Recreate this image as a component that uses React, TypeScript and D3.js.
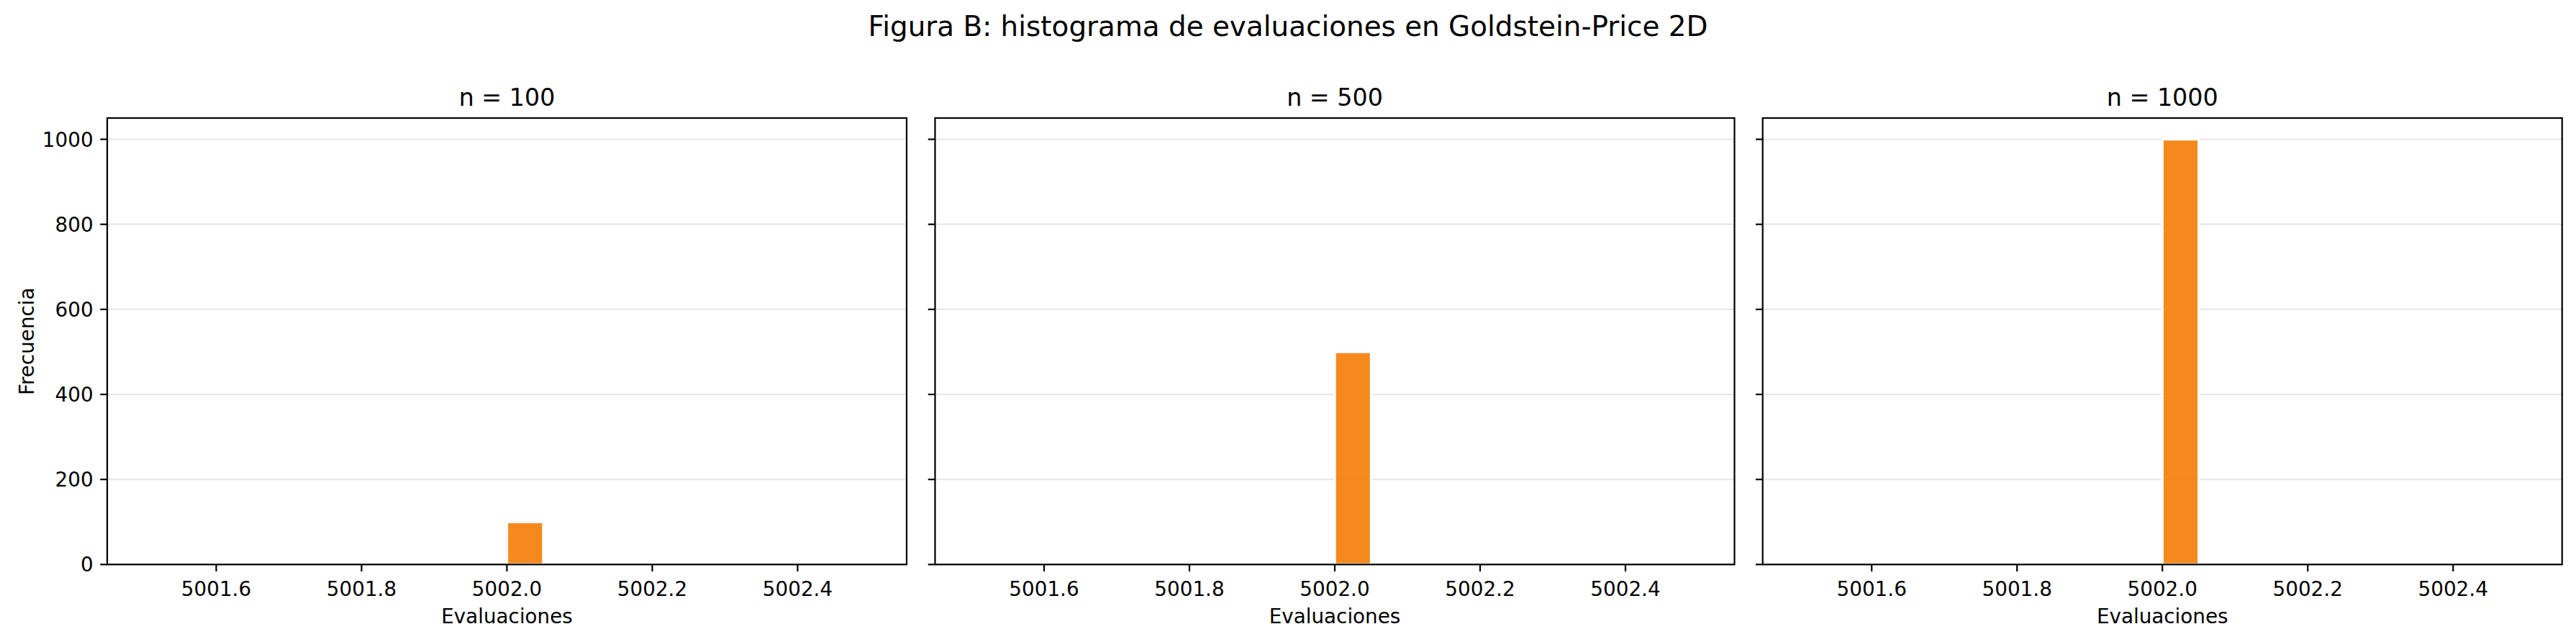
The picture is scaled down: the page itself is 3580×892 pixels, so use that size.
import React from "react";
import * as d3 from "d3";

// ---- data ----
const suptitle = "Figura B: histograma de evaluaciones en Goldstein-Price 2D";
const panelTitles = ["n = 100", "n = 500", "n = 1000"];
const sampleSizes = [100, 500, 1000];
// histogram: only non-empty bin (all runs used 5002 evaluations)
const binStarts = [5002.0, 5002.0, 5002.0];
const binEnds = [5002.05, 5002.05, 5002.05];
const binCounts = [100, 500, 1000];
const xDomain = [5001.45, 5002.55];
const yDomain = [0, 1050];
const xTicks = [5001.6, 5001.8, 5002.0, 5002.2, 5002.4];
const yTicks = [0, 200, 400, 600, 800, 1000];
const xLabel = "Evaluaciones";
const yLabel = "Frecuencia";

// ---- layout ----
const W = 3580;
const H = 892;
const panelLefts = [149, 1299.5, 2449.7];
const panelWidth = 1111;
const top = 164;
const bottom = 784.3;
const FONT = "DejaVu Sans, sans-serif";
const tickLen = 9.7;
const lw = 2.2;
const barColor = "#f47c06";

function Panel({ i }: { i: number }) {
  const left = panelLefts[i];
  const x = d3.scaleLinear().domain(xDomain).range([left, left + panelWidth]);
  const y = d3.scaleLinear().domain(yDomain).range([bottom, top]);
  const cx = left + panelWidth / 2;
  return (
    <g>
      {/* grid */}
      {yTicks.map((t) => (
        <line
          key={"g" + t}
          x1={left}
          x2={left + panelWidth}
          y1={y(t)}
          y2={y(t)}
          stroke="#e7e7e7"
          strokeWidth={lw}
        />
      ))}
      {/* bar */}
      <rect
        x={x(binStarts[i])}
        y={y(binCounts[i])}
        width={x(binEnds[i]) - x(binStarts[i])}
        height={y(0) - y(binCounts[i])}
        fill={barColor}
        fillOpacity={0.9}
        stroke="#ffffff"
        strokeWidth={3.4}
      />
      {/* spines */}
      <rect
        x={left}
        y={top}
        width={panelWidth}
        height={bottom - top}
        fill="none"
        stroke="#000"
        strokeWidth={lw}
      />
      {/* x ticks */}
      {xTicks.map((t) => (
        <g key={"x" + t}>
          <line x1={x(t)} x2={x(t)} y1={bottom} y2={bottom + tickLen} stroke="#000" strokeWidth={lw} />
          <text
            x={x(t)}
            y={828}
            textAnchor="middle"
            fontFamily={FONT}
            fontSize={27.8}
            fill="#000"
          >
            {t.toFixed(1)}
          </text>
        </g>
      ))}
      {/* y ticks */}
      {yTicks.map((t) => (
        <g key={"y" + t}>
          <line x1={left - tickLen} x2={left} y1={y(t)} y2={y(t)} stroke="#000" strokeWidth={lw} />
          {i === 0 && (
            <text
              x={left - tickLen - 9.7}
              y={y(t) + 10.1}
              textAnchor="end"
              fontFamily={FONT}
              fontSize={27.8}
              fill="#000"
            >
              {String(t)}
            </text>
          )}
        </g>
      ))}
      {/* title */}
      <text x={cx} y={147.3} textAnchor="middle" fontFamily={FONT} fontSize={33.3} fill="#000">
        {panelTitles[i]}
      </text>
      {/* x label */}
      <text x={cx} y={866} textAnchor="middle" fontFamily={FONT} fontSize={27.8} fill="#000">
        {xLabel}
      </text>
      {i === 0 && (
        <text
          transform={`translate(47, ${(top + bottom) / 2}) rotate(-90)`}
          textAnchor="middle"
          fontFamily={FONT}
          fontSize={27.8}
          fill="#000"
        >
          {yLabel}
        </text>
      )}
    </g>
  );
}

export default function App() {
  return (
    <svg
      width={W}
      height={H}
      viewBox={`0 0 ${W} ${H}`}
      style={{ position: "absolute", left: 0, top: 0, background: "#fff" }}
      data-samples={sampleSizes.join(",")}
    >
      <rect x={0} y={0} width={W} height={H} fill="#fff" />
      <text x={W / 2} y={50} textAnchor="middle" fontFamily={FONT} fontSize={38.9} fill="#000">
        {suptitle}
      </text>
      {panelTitles.map((_, i) => (
        <Panel key={i} i={i} />
      ))}
    </svg>
  );
}
